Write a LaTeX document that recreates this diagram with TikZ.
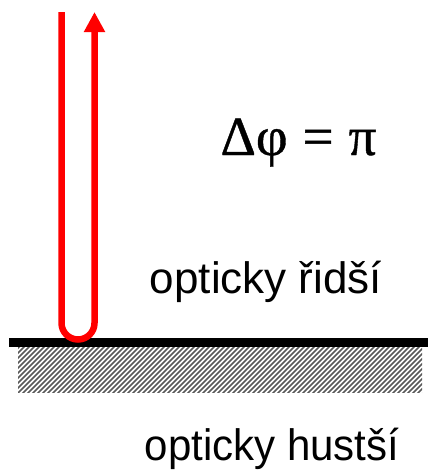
\documentclass[tikz,border=0pt]{standalone}
\usepackage{fontspec}
\setmainfont{Liberation Sans}
\newfontfamily\serifgr[FakeBold=0.7]{Liberation Serif}
\usetikzlibrary{arrows.meta}
\tikzset{
  ray/.style={draw=red, line width=6.5pt, -{Triangle[length=20pt,width=20pt]}},
  lbl/.style={font=\fontsize{44}{44}\selectfont, inner sep=0pt, anchor=base},
  hatchline/.style={draw=black!65, line width=1.5pt},
}
\begin{document}
\begin{tikzpicture}[x=1pt,y=-1pt]
\useasboundingbox (0,0) rectangle (428,471);
% hatched medium
\begin{scope}
\clip (18,347) rectangle (422,392);
\foreach \i in {-60,-55,...,430} {
  \draw[hatchline] (\i,396) -- (\i+53,343);
}
\end{scope}
% interface
\fill[black] (9,338) rectangle (428,347);
% ray
\coordinate (start) at (61.5,12);
\coordinate (end) at (94.5,12);
\draw[ray] (start) -- (61.5,323) arc[start angle=180, end angle=0, radius=16.5] -- (end);
% labels
\node[inner sep=0pt, anchor=base, font=\serifgr\fontsize{55}{55}\selectfont] (dphi) at (298.5,155) {Δφ\hspace{15pt}=\hspace{15pt}π};
\node[lbl] (upper) at (266,293) {opticky řidší};
\node[lbl, xscale=0.955] (lower) at (272,460) {opticky hustší};
\end{tikzpicture}
\end{document}
